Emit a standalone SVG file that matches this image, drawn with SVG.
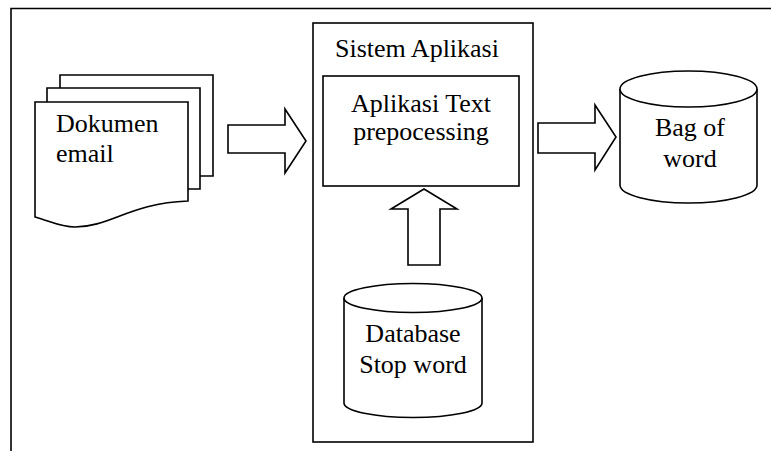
<svg xmlns="http://www.w3.org/2000/svg" width="771" height="451" viewBox="0 0 771 451">
<style>
.s{fill:#fff;stroke:#000;stroke-width:1.6;stroke-linejoin:miter}
.n{fill:none;stroke:#000;stroke-width:1.6}
.t{font-family:"Liberation Serif","Times New Roman",serif;font-size:26px;fill:#000}
.c{text-anchor:middle}
</style>
<rect width="771" height="451" fill="#fff"/>
<g id="frame"><path class="n" d="M11,451 V8.5 H771" stroke-width="2"/></g>
<g id="dokumen">
<path class="n" d="M60,88 V75 H213 V176 H200"/>
<path class="n" d="M47,102 V88 H200 V189 H188"/>
<path class="s" d="M35,102 H188 V201 C130,203 110,227 75,227 C60,227 50,221 35,217 Z"/>
<text class="t" x="56" y="132">Dokumen</text>
<text class="t" x="56" y="162">email</text>
</g>
<g id="sistem">
<rect class="s" x="313" y="23" width="220" height="419"/>
<text class="t" x="335" y="57">Sistem Aplikasi</text>
</g>
<g id="aplikasi">
<rect class="s" x="323" y="76" width="196" height="110"/>
<text class="t c" x="421" y="112">Aplikasi Text</text>
<text class="t c" x="421" y="140">prepocessing</text>
</g>
<g id="database">
<path class="s" d="M344,298 V403 A69,14.5 0 0 0 482,403 V298"/>
<ellipse class="s" cx="413" cy="298" rx="69" ry="14.5"/>
<text class="t c" x="413" y="342">Database</text>
<text class="t c" x="413" y="373">Stop word</text>
</g>
<g id="bag">
<path class="s" d="M620,89 V185 A68.5,18 0 0 0 757,185 V89"/>
<ellipse class="s" cx="688.5" cy="89" rx="68.5" ry="18"/>
<text class="t c" x="690" y="136">Bag of</text>
<text class="t c" x="690" y="167">word</text>
</g>
<g id="connectors">
<path class="s" d="M228,125 H285 V109 L306,141 L285,173 V153 H228 Z"/>
<path class="s" d="M538,123 H595 V105 L616,137 L595,170 V153 H538 Z"/>
<path class="s" d="M424,189 L457,209 H440 V265 H408 V209 H391 Z"/>
</g>
</svg>
